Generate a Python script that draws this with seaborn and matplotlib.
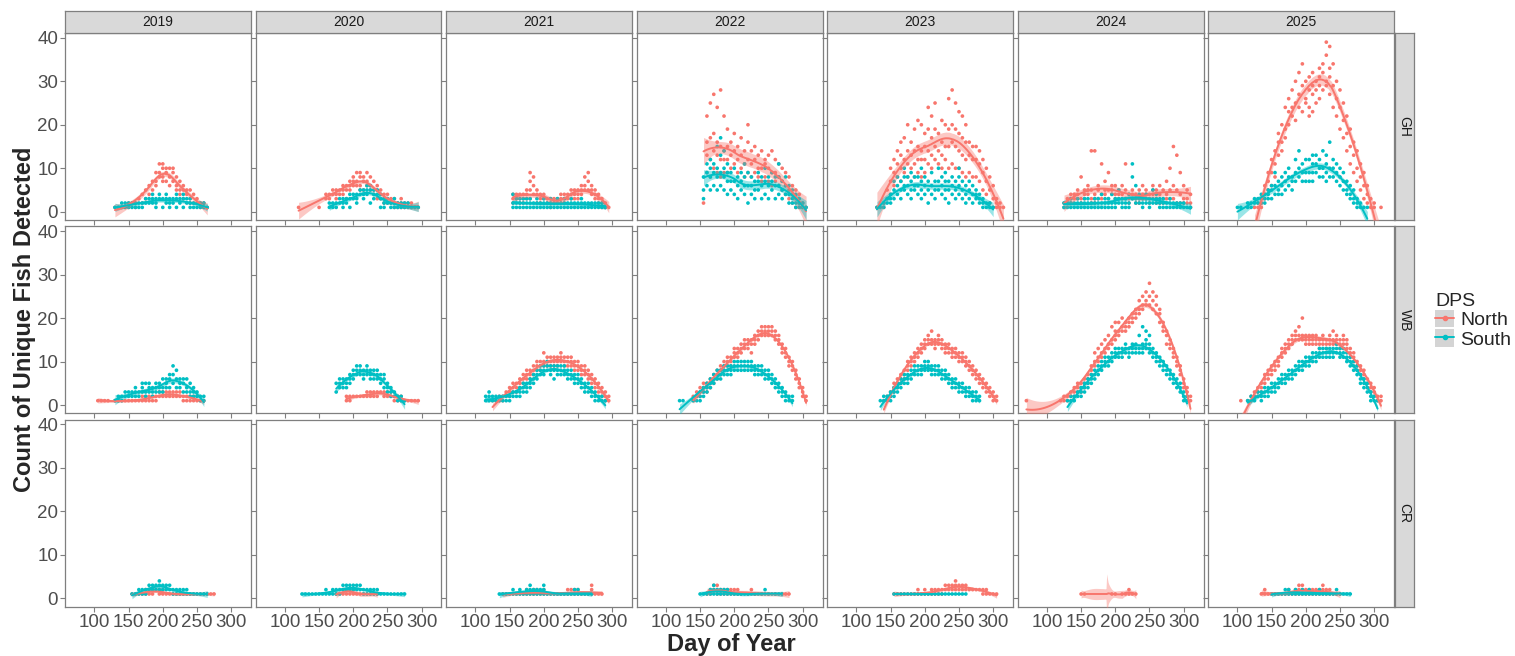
import numpy as np
import pandas as pd
import seaborn as sns
import matplotlib.pyplot as plt

from matplotlib.patches import Patch
from matplotlib.lines import Line2D
from matplotlib.legend_handler import HandlerTuple

# Facets and styling levels
SITES = ["GH", "WB", "CR"]
YEARS = [2019, 2020, 2021, 2022, 2023, 2024, 2025]
DPS_LEVELS = ["North", "South"]
PALETTE = {"North": "#F8766D", "South": "#00BFC4"}
X_TICKS = [100, 150, 200, 250, 300]
Y_TICKS = [0, 10, 20, 30, 40]
STEP = 5  # days between groups of detections

# Each series: (first day, groups of counts every STEP days; "-" = no detection)
GH_2019_N = (130, "1 1 1 1 1,2 2 1,2 3 4,2 5,3 6,4 7,5 9,7,6 11,9,8 10,11,8,7 10,9,7 10,8,6 10,9,7 8,6,5 7,5,4 6,5,3 5,4 5,3,2 4,2 3,2 2,1 2,1 1")
GH_2019_S = (130, "1 1 1,2 1,2 1,2 2,1 2,1 2,1 2,1 3,2 3,2 4,3,2 3,2,1 4,3 3,1 4,3,2 3,2,1 3,2 4,3,1 3,2 4,3,1 3,2 3,2,1 2,1 2,1 2,1 1,2 1")
GH_2020_N = (120, "1 - - - - - 1 - 3,4 4,3 4,5 5,4,3 5,4 6,5,4 6,5,3 7,6,5 8,7,6 9,7,6 9,8,6,5 8,7,5 9,7,6 8,6,5 7,5,4 6,5,3 5,4,3 4,3,2 4,3,2 3,2 3,2,1 2,1 3,2,1 2,1 2,1 1,2 1 1")
GH_2020_S = (165, "1,2 1,2 2,1 2,3 3,2,1 3,2 4,3,1 4,3 4,3,2 5,4 5,4,3 6,5,4 6,5,2 5,4,3 5,4 4,3,1 3,2,1 3,2 2,1 3,2,1 2,1 2,1 1,2 1,2 1 1 1")
GH_2021_N = (155, "4,3,2 4,3 3,2,4 4,3,2 5,4,3 9,7,5,3 8,6,4 5,4,2 4,3,2 4,3 3,2 3,2,1 3,2 2,3 3,2,4 4,3,2 4,3 5,4,3 5,4,3 5,4,3 6,5,4 8,6,5 9,7,5 6,5,4 5,4,3 4,3,2 3,2,1 2,1 1")
GH_2021_S = (155, "2,1,4 3,2,1 3,2,1 3,2,1 2,1,3 3,2,1 2,1 3,2,1 2,1 3,2,1 2,1 2,1,3 2,1 2,1,3 2,1 3,2,1 2,1 3,2,1 2,1 2,1 3,2,1 2,1 2,1 2,1 2,1 2,1 2,1 1")
GH_2022_N = (155, "2 9,13,16,22 8,12,17,25 10,14,18,27 9,13,16,24 8,12,15,28 9,12,14,22 9,12,15,19 10,13,16 11,14,18 9,12,15 10,13,17 8,11,14 9,12,16,20 8,11,14 9,12,15 8,10,13 7,10,14 8,11,12 7,10,13 6,9,14 7,9,12 6,8,11 5,7,10 4,6,9 3,5,8 2,4,6 1,3,5 1,2,4 1,2 1")
GH_2022_S = (155, "3,5,8 6,9,11 5,8,10,12 6,9,11 5,8,10,15 6,9,13,17 5,8,10,14 4,7,9,11 5,7,9 4,7,10 3,6,8 5,7,9 4,6,8,11 2,6,9 4,6,8 3,5,7 5,7,9 3,6,8 4,7,10 3,6,8 5,7,9 3,6,8 4,6,8,11 3,5,7 4,6,8 2,4,6 2,3,5 1,2,4 1,2,3 1,2 1")
GH_2023_N = (130, "1 - 1,2 3,5 4,7,10 6,9,12 8,11,14 7,10,13,16 9,12,17 8,11,14,20 10,13,16 8,11,14,19 9,12,15,21 8,12,14,20 9,12,15,18 11,14,19,24 10,13,17,22 12,15,19,25 11,14,18 10,13,16,21 12,15,20 10,15,19,26 11,16,20,28 10,15,19,25 10,14,18,23 9,13,17,22 8,12,16,20 9,13,16 8,12,15 8,12,15 7,11,14 5,9,12 4,7,10 2,5,8 1,3,6 1,2,3 1,2 1")
GH_2023_S = (130, "1 1 1,2 2,3 3,4,2 3,5,7 4,6,8 3,5,7 5,6,8,10 4,6,8 3,5,7,9 5,6,8 4,6,8 3,5,7,10 4,6,8 2,5,7 4,6,9 3,5,7 5,7,10 4,6,8 3,5,7,9 2,5,7 4,6,8 3,5,7 4,6,8,10 3,5,7 2,4,6 3,5,7 2,4,6 3,4,5 2,3,4 1,2,3 1,2 1,2 1")
GH_2024_N = (125, "1,2 2,3 2,3,4 3,4 3,4,5 2,3,8 4,5,3 5,6,4 14,5,3,2 14,4,3,2 5,6,3 11,4,3 5,4,7 9,5,3 4,5,6 6,4,3 5,4,3 6,4,3 11,5,3 4,3,2 5,4,3 4,3,2 5,3,2 4,3,6 5,4,3 3,2,4 4,5,6 5,3,2 6,4,2 5,3,2 7,4,3 10,5,3 15,6,3 13,5,2 9,4,2 6,3,2 5,3,2 4,2,1")
GH_2024_S = (125, "1,2 1,2 2,1,3 1,2 2,1,3 1,2 2,3,1 1,2,3 2,1 1,2,3 2,3,1 1,2,4 2,3,1 3,2,1 2,4,1 1,2,3 5,3,2 2,3,1 3,2,1 4,2,1 11,8,3 6,3,2 3,2,4 2,3,1 4,3,2 3,2,1 5,3,2 4,3,2 3,2,1 2,1,3 2,1 1,2,3 2,1 1,2 2,1 1,2 1 1")
GH_2025_N = (125, "1 2,1 3,2,1 4,6,3 7,9,5 9,12,6 11,14,8 13,18,16 16,20,14 19,24,17 20,26,23 22,28,24 21,30,25 24,27,32 23,29,34 26,30,25 24,28,31,22 27,29,23,32 25,30,28 26,31,33,29 28,32,34 30,36,39,29 27,33,38,31 24,29,34 22,26,30 19,24,28 17,21,25 14,18,22 11,15,19 9,13,16 7,10,14 5,8,11 3,6,9 2,4,6 1,3 1,2 - 1")
GH_2025_S = (100, "1 1 - 1,2 2,1 2,3 3,2 4,3,2 3,4,2 4,5,3 5,6,3 6,9,4 5,7,4 6,8,4 7,5,9 6,8,10 8,7,5 9,12,7 8,10,14 9,11,7 12,9,7 12,9,7 9,11,7,13 9,11,13 10,12,8 14,10,8 11,9,13,7 16,10,8 10,12,8 9,11,7 8,10,6 7,9,5 5,7,4 4,6,3 3,5,2 2,3,1 1,2 1 1")

WB_2019_N = (105, "1 1 1 1 - 1 1 1 1 1 1 1 1 1,2 1,2 2,1 2,1 2,1 2,3 2,3 3,2 3,2 3,2 3,2 2,3 2,1 1,2 1,2 1,2 2,1 1 1")
WB_2019_S = (130, "1 1,2 2,1 2,3 2,3 3,2 2,3,4 3,2 4,3,5 3,5,2 4,5,3 3,4,2 4,5,3 5,4,3 4,6,3 5,6,4 6,7,4 7,9,5 8,6,4 6,5,4 5,6,3 6,4,3 5,3,2 4,3,2 3,2 2,1 1,2")
WB_2020_N = (190, "1,2 2,1 2 2 2 2 2,3 2,3 3,2 3,2 3 3,2 3,2 2,3 2,1 2,1 1,2 1 1 1 1 1")
WB_2020_S = (175, "3,5 4,6,5 5,4,6 6,5,4 7,6,5 8,7,6 9,8,7 8,7,9 8,7,6 9,8,7 8,7,6 8,7,6 8,7,6 7,6,5 7,6,4 5,4,3 4,3,2 3,2 2,1 1,2 1")
WB_2021_N = (125, "1 1 1,2 2,1 2,3 3,4,2 4,3,5 5,4,3 6,5,4 6,7,5 7,6,8 8,7,6 9,8,7 9,8,10 10,9,8 10,9,12 10,9,11 11,10,9 10,11,9 11,10,9 10,11,12 11,10,9 10,9,11 10,11,9 9,10,8 9,8,10 9,8,7 8,7,9 7,8,6 6,7,5 5,6,4 4,5,3 3,4,2 2,3,1 1,2")
WB_2021_S = (115, "2,1 3,2,1 2,1 1,2 1,2 2,1 1,2 1,2 2,3 2,3 3,2,4 3,4,5 4,5,3 5,6,4 6,5,7 7,6,8 8,7,9 8,9,7 9,8,10 9,8,7 8,9,6 9,8,7 8,9,7 8,7,9 7,8,6 8,7,6 7,6,5 6,7,5 6,5,4 5,4,3 4,5,3 3,4,2 3,2,1 2,1 1,2 1")
WB_2022_N = (140, "1,2 2,3 3,2,4 4,3,5 4,5,3 5,6,4 6,7,5 7,8,6 8,9,7 9,8,10 10,9,11 11,10,9 12,11,13 12,13,11 13,14,12 13,15,14 14,15,13 15,14,12 16,15,14 17,16,15 18,17,16 18,17,16 18,17,16 17,16,18 16,15,17 15,14,16 13,14,12 12,11,13 10,11,9 9,8,10 7,6,8 5,4,6 3,2,4 1,2")
WB_2022_S = (120, "1 1 - - 1 2,1 2,3,1 3,4,2 4,5,3 5,4,6 6,5,7 7,6,8 7,8,6 8,7,9 8,9,7 9,8,7 9,8,10 9,8,10 9,10,8 9,10,8 9,8,10 9,8,10 9,8,7 8,9,7 8,9,7 7,8,6 7,6,8 6,5,7 5,6,4 4,5,3 3,4,2 2,3,1 2,1 1,2")
WB_2023_N = (140, "1 1,2 2,3 3,4,5 5,4,6 6,7,5 7,8,6 9,8,10 10,9,11 11,10,12 12,11,13 13,14,12 14,15,13 15,16,14 15,14,17 14,15,13 15,14,16 14,13,15 14,13,12 13,14,12 12,13,11 12,13,11 11,12,10 11,10,12 10,9,11 9,8,10 8,9,7 7,6,8 6,5,7 5,4,6 4,3,5 3,2,4 2,1,3 1,2")
WB_2023_S = (135, "1 1,2 2,1 2,3,1 3,2,4 4,3,5 5,4,6 6,5,7 6,7,5 7,6,8 8,7,9 8,9,7 9,8,7 9,8,10 9,8,10 9,8,7 8,9,7 8,7,9 7,8,6 7,6,8 6,5,7 5,6,4 5,4,6 4,5,3 4,3,5 3,4,2 3,2,4 2,3,1 2,1,3 1,2")
WB_2024_N = (70, "1 - - - - - - - - - 1 1,2 2,1 2,3 3,2,4 3,4,5 3,4,5 4,5,6 5,6,7 7,8,9 10,9,12 11,10,13 12,11,14 13,12,15 14,13,16 15,14,18 16,15,17,19 17,16,19 18,17,20 18,19,17 19,20,18 20,19,21 21,20,22 22,21,24 23,22,25 24,23,26 25,28,23 24,26,22 23,25,21 21,22,19 18,19,17 16,17,14 14,13,15 12,11,13 10,9,11 8,7,9 5,6,4 3,2,4 1,2")
WB_2024_S = (130, "1 1,2 2,1 2,3 3,4,2 4,3,5 5,6,4 6,5,7 7,6,8 8,7,9 9,8,10 10,9,11 10,11,9 11,10,12 12,11,13 12,11,13 12,13,11 13,12,14 12,13,11 13,12,14 12,14,13 13,12,16 13,14,12,18 14,13,15,17 13,14,12,16 12,13,11 11,12,10 10,9,11 9,8,10 8,7,9 7,6,8 6,5,7 5,4,6 4,3,5 2,3,1 1,2")
WB_2025_N = (105, "1 - 1 2,1 3,2 3,4,2 4,5,3 6,5,7 7,6,8 8,9,7 9,10,8 10,11,9 12,11,13 13,12,14 14,13,15 15,14,16 16,15,17 15,16,18 16,15,20 15,16,14 15,14,16 15,16,14 15,14,16 14,15,13 15,14,16 14,15,13 15,16,14 15,14,17 16,15,14 14,15,13 15,16,14 14,13,15 12,13,11 11,10,12 9,10,8 8,7,9 7,6,8 5,6,4 4,3,5 3,2,4 2,1 1,2")
WB_2025_S = (115, "1 1,2 2,1 2,3 2,3,1 3,2,4 3,4,2 4,5,3 4,5,3 5,4,6 6,5,7 6,7,5 7,6,8 7,8,6 8,7,9 9,8,10 9,10,8 10,9,11 10,11,9 11,10,12 11,12,10 12,11,13 12,11,13 12,13,11 12,13,11 12,13,11 13,12,14 12,13,11 12,11,13 11,12,10 10,11,9 9,8,10 8,7,9 6,7,5 5,4,6 4,3,5 2,3,1 1,2 1")

CR_2019_N = (155, "1 1 1 1 1,2 2,1 2,1 2 2,1 2,1 1 1 1 1 1 1 1 1 1 1 1 1 1 1 1")
CR_2019_S = (155, "1 1 1,2 1,2 2,1 2,3 2,3 3,2 3,4,2 3,2 2,3 2,3 2,1 1,2 2,1 2,1 1,2 1 1 1 1 1 1")
CR_2020_N = (175, "1 1 1,2 1,2 2,1 1,2 1 1 1 1 1 1 1")
CR_2020_S = (125, "1 1 1 1 1 1 1 1,2 1 1,2 1,2 2,1 2,3 3,2 3,2 2,3 2,3 3,2 2,1 2,1 2,1 2,1 1,2 1 1 1 1 1 1 1 1")
CR_2021_N = (140, "1 1 1 1 1 1 1 1,2 1 1,2 2,1 1 1,2 1 1 1 1 1 1 2,1 2,1 1,2 1,2 1 1 1 3,2,1 1 1 1")
CR_2021_S = (135, "1 1 1 1 2,1 1 2,1 1 1,2 3,2,1 1,2 1,2 2,1 3,2,1 1 1 1 1 1 1 1 1 1,2 2,1 1 1 1 1")
CR_2022_N = (160, "1 1,2 2,3 3,2,1 2,1 1,2 2,1 2,1 2,1 1,2 1 - 1 2 1 - 1 - 1 - 1 - 1 1 1")
CR_2022_S = (150, "1 1 1 2,1 3,2,1 2,1 2,1 1,2 2,1 1 1 1 1 1 1 1 1 1 1 2,1 1 1 1 1 1")
CR_2023_N = (155, "1 1 1 1 1 1 1 1,2 1 1,2 1 2,1 2,1 2,1 2,1 3,2 3,2 3,2 3,2,4 3,2 2,3 2,3 2 2 2 2 2,1 2,1 1 1 1")
CR_2023_S = (155, "1 1 1 1 1 1 1 1 1 1 1 1 1 1 1 1 1 1 1 1 1 1")
CR_2024_N = (150, "1 1 - - - - - - - 1 1 - 1 1 2,1 1 1")
CR_2025_N = (135, "1 1,2 1 1 1 1 1 1 1,2 1 2,1 3,2,1 3,2,1 2,1 1,2 2,1 1,2 2,1 3,2,1 2,1 1,2 1 1 1")
CR_2025_S = (150, "1 1 1 1 1,2 2,1 1 1,2 1 2,1 1 1,2 1 1 1,2 1 1 1 1 2,1 1 1 1 1")

SERIES = [
    ("GH", 2019, "North", GH_2019_N), ("GH", 2019, "South", GH_2019_S),
    ("GH", 2020, "North", GH_2020_N), ("GH", 2020, "South", GH_2020_S),
    ("GH", 2021, "North", GH_2021_N), ("GH", 2021, "South", GH_2021_S),
    ("GH", 2022, "North", GH_2022_N), ("GH", 2022, "South", GH_2022_S),
    ("GH", 2023, "North", GH_2023_N), ("GH", 2023, "South", GH_2023_S),
    ("GH", 2024, "North", GH_2024_N), ("GH", 2024, "South", GH_2024_S),
    ("GH", 2025, "North", GH_2025_N), ("GH", 2025, "South", GH_2025_S),
    ("WB", 2019, "North", WB_2019_N), ("WB", 2019, "South", WB_2019_S),
    ("WB", 2020, "North", WB_2020_N), ("WB", 2020, "South", WB_2020_S),
    ("WB", 2021, "North", WB_2021_N), ("WB", 2021, "South", WB_2021_S),
    ("WB", 2022, "North", WB_2022_N), ("WB", 2022, "South", WB_2022_S),
    ("WB", 2023, "North", WB_2023_N), ("WB", 2023, "South", WB_2023_S),
    ("WB", 2024, "North", WB_2024_N), ("WB", 2024, "South", WB_2024_S),
    ("WB", 2025, "North", WB_2025_N), ("WB", 2025, "South", WB_2025_S),
    ("CR", 2019, "North", CR_2019_N), ("CR", 2019, "South", CR_2019_S),
    ("CR", 2020, "North", CR_2020_N), ("CR", 2020, "South", CR_2020_S),
    ("CR", 2021, "North", CR_2021_N), ("CR", 2021, "South", CR_2021_S),
    ("CR", 2022, "North", CR_2022_N), ("CR", 2022, "South", CR_2022_S),
    ("CR", 2023, "North", CR_2023_N), ("CR", 2023, "South", CR_2023_S),
    ("CR", 2024, "North", CR_2024_N),
    ("CR", 2025, "North", CR_2025_N), ("CR", 2025, "South", CR_2025_S),
]


def expand(start, groups):
    """Turn a (start, 'a,b c -') series into day / count pairs."""
    days, counts = [], []
    for i, grp in enumerate(groups.split()):
        if grp == "-":
            continue
        for v in grp.split(","):
            days.append(start + STEP * i)
            counts.append(int(v))
    return days, counts


def loess(x, y, grid, span=0.75):
    """Local quadratic regression with tricube weights, like geom_smooth."""
    x = np.asarray(x, float)
    y = np.asarray(y, float)
    n = len(x)
    q = min(max(int(np.floor(n * span)), 3), n)

    def hat_row(x0):
        d = np.abs(x - x0)
        h = max(np.sort(d)[q - 1], 1e-6) * 1.001
        w = np.clip(1 - (d / h) ** 3, 0, None) ** 3
        u = (x - x0) / h
        X = np.column_stack([np.ones(n), u, u ** 2])
        XtW = X.T * w
        return np.linalg.pinv(XtW @ X)[0] @ XtW

    L = np.array([hat_row(v) for v in x])
    M = np.eye(n) - L
    delta1 = max(np.trace(M.T @ M), 1e-6)
    sigma = np.sqrt(np.sum((M @ y) ** 2) / delta1)

    G = np.array([hat_row(v) for v in grid])
    fit = G @ y
    se = sigma * np.sqrt((G ** 2).sum(axis=1))
    tq = 1.96 + 2.4 / max(delta1, 1)
    return fit, fit - tq * se, fit + tq * se


# Build points and smooth tables
pts_rows, sm_rows = [], []
for site, year, dps, (start, groups) in SERIES:
    days, counts = expand(start, groups)
    for d, c in zip(days, counts):
        pts_rows.append((site, year, dps, d, c))
    grid = np.linspace(min(days), max(days), 80)
    fit, lo, hi = loess(days, counts, grid)
    for g, f, a, b in zip(grid, fit, lo, hi):
        sm_rows.append((site, year, dps, g, f, a, b))

pts = pd.DataFrame(pts_rows, columns=["site", "year", "DPS", "day", "count"])
sm = pd.DataFrame(sm_rows, columns=["site", "year", "DPS", "day", "fit", "lo", "hi"])

# Figure
sns.set_theme(style="white")
plt.rcParams["font.family"] = ["Liberation Sans", "DejaVu Sans"]

W, H = 1515, 656
fig = plt.figure(figsize=(W / 100, H / 100), dpi=100)


def rect(x0, y0, w, h):
    return [x0 / W, 1 - (y0 + h) / H, w / W, h / H]


PANEL_W, PANEL_H = 186, 187
BORDER = "#7F7F7F"

for r, site in enumerate(SITES):
    top = 33 + r * 193.3
    for c, year in enumerate(YEARS):
        left = 65 + c * 190.5
        ax = fig.add_axes(rect(left, top, PANEL_W, PANEL_H))
        psub = pts[(pts.site == site) & (pts.year == year)]
        ssub = sm[(sm.site == site) & (sm.year == year)]

        sns.scatterplot(data=psub, x="day", y="count", hue="DPS",
                        palette=PALETTE, hue_order=DPS_LEVELS, s=7,
                        linewidth=0, ax=ax, legend=False, zorder=2)
        for dps, g in ssub.groupby("DPS"):
            ax.fill_between(g["day"], g["lo"], g["hi"], color=PALETTE[dps],
                            alpha=0.4, linewidth=0, zorder=3)
        sns.lineplot(data=ssub, x="day", y="fit", hue="DPS", palette=PALETTE,
                     hue_order=DPS_LEVELS, estimator=None, linewidth=1.4,
                     ax=ax, legend=False, zorder=4)

        ax.set_xlim(57, 329)
        ax.set_ylim(-1.9, 41.1)
        ax.set_xticks(X_TICKS)
        ax.set_yticks(Y_TICKS)
        ax.set_xlabel("")
        ax.set_ylabel("")
        for sp in ax.spines.values():
            sp.set_color(BORDER)
            sp.set_linewidth(0.9)
        ax.tick_params(length=3.5, width=0.8, color=BORDER, labelsize=13.5,
                       labelcolor="#4D4D4D", pad=1.5,
                       bottom=True, left=True,
                       labelbottom=(r == len(SITES) - 1), labelleft=(c == 0))

        # Column strip
        if r == 0:
            st = fig.add_axes(rect(left, 11, PANEL_W, 22))
            st.set_facecolor("#D9D9D9")
            st.set_xticks([])
            st.set_yticks([])
            for sp in st.spines.values():
                sp.set_color(BORDER)
                sp.set_linewidth(0.9)
            st.text(0.5, 0.5, str(year), ha="center", va="center",
                    fontsize=10, color="#1A1A1A", transform=st.transAxes)

    # Row strip
    rs = fig.add_axes(rect(1395, top, 19, PANEL_H))
    rs.set_facecolor("#D9D9D9")
    rs.set_xticks([])
    rs.set_yticks([])
    for sp in rs.spines.values():
        sp.set_color(BORDER)
        sp.set_linewidth(0.9)
    rs.text(0.5, 0.5, site, ha="center", va="center", rotation=270,
            fontsize=10, color="#1A1A1A", transform=rs.transAxes)

# Axis titles
fig.text(25 / W, 1 - 319 / H, "Count of Unique Fish Detected", rotation=90,
         ha="center", va="center", fontsize=17, fontweight="bold")
fig.text(731 / W, 1 - 644 / H, "Day of Year", ha="center", va="center",
         fontsize=17, fontweight="bold")

# Legend: grey key box with line + point on top
handles = [(Patch(facecolor="#D4D4D4", edgecolor="none"),
            Line2D([], [], color=PALETTE[d], lw=1.4, marker="o", markersize=3))
           for d in DPS_LEVELS]
fig.legend(handles, DPS_LEVELS, title="DPS", loc="upper left",
           bbox_to_anchor=(1435 / W, 1 - 293 / H), frameon=False,
           handler_map={tuple: HandlerTuple(ndivide=1, pad=0)},
           fontsize=14, title_fontsize=14, handlelength=1.0,
           handleheight=1.0, handletextpad=0.3, labelspacing=0.0,
           borderpad=0, borderaxespad=0, alignment="left")

fig.savefig("out.png", dpi=100)
